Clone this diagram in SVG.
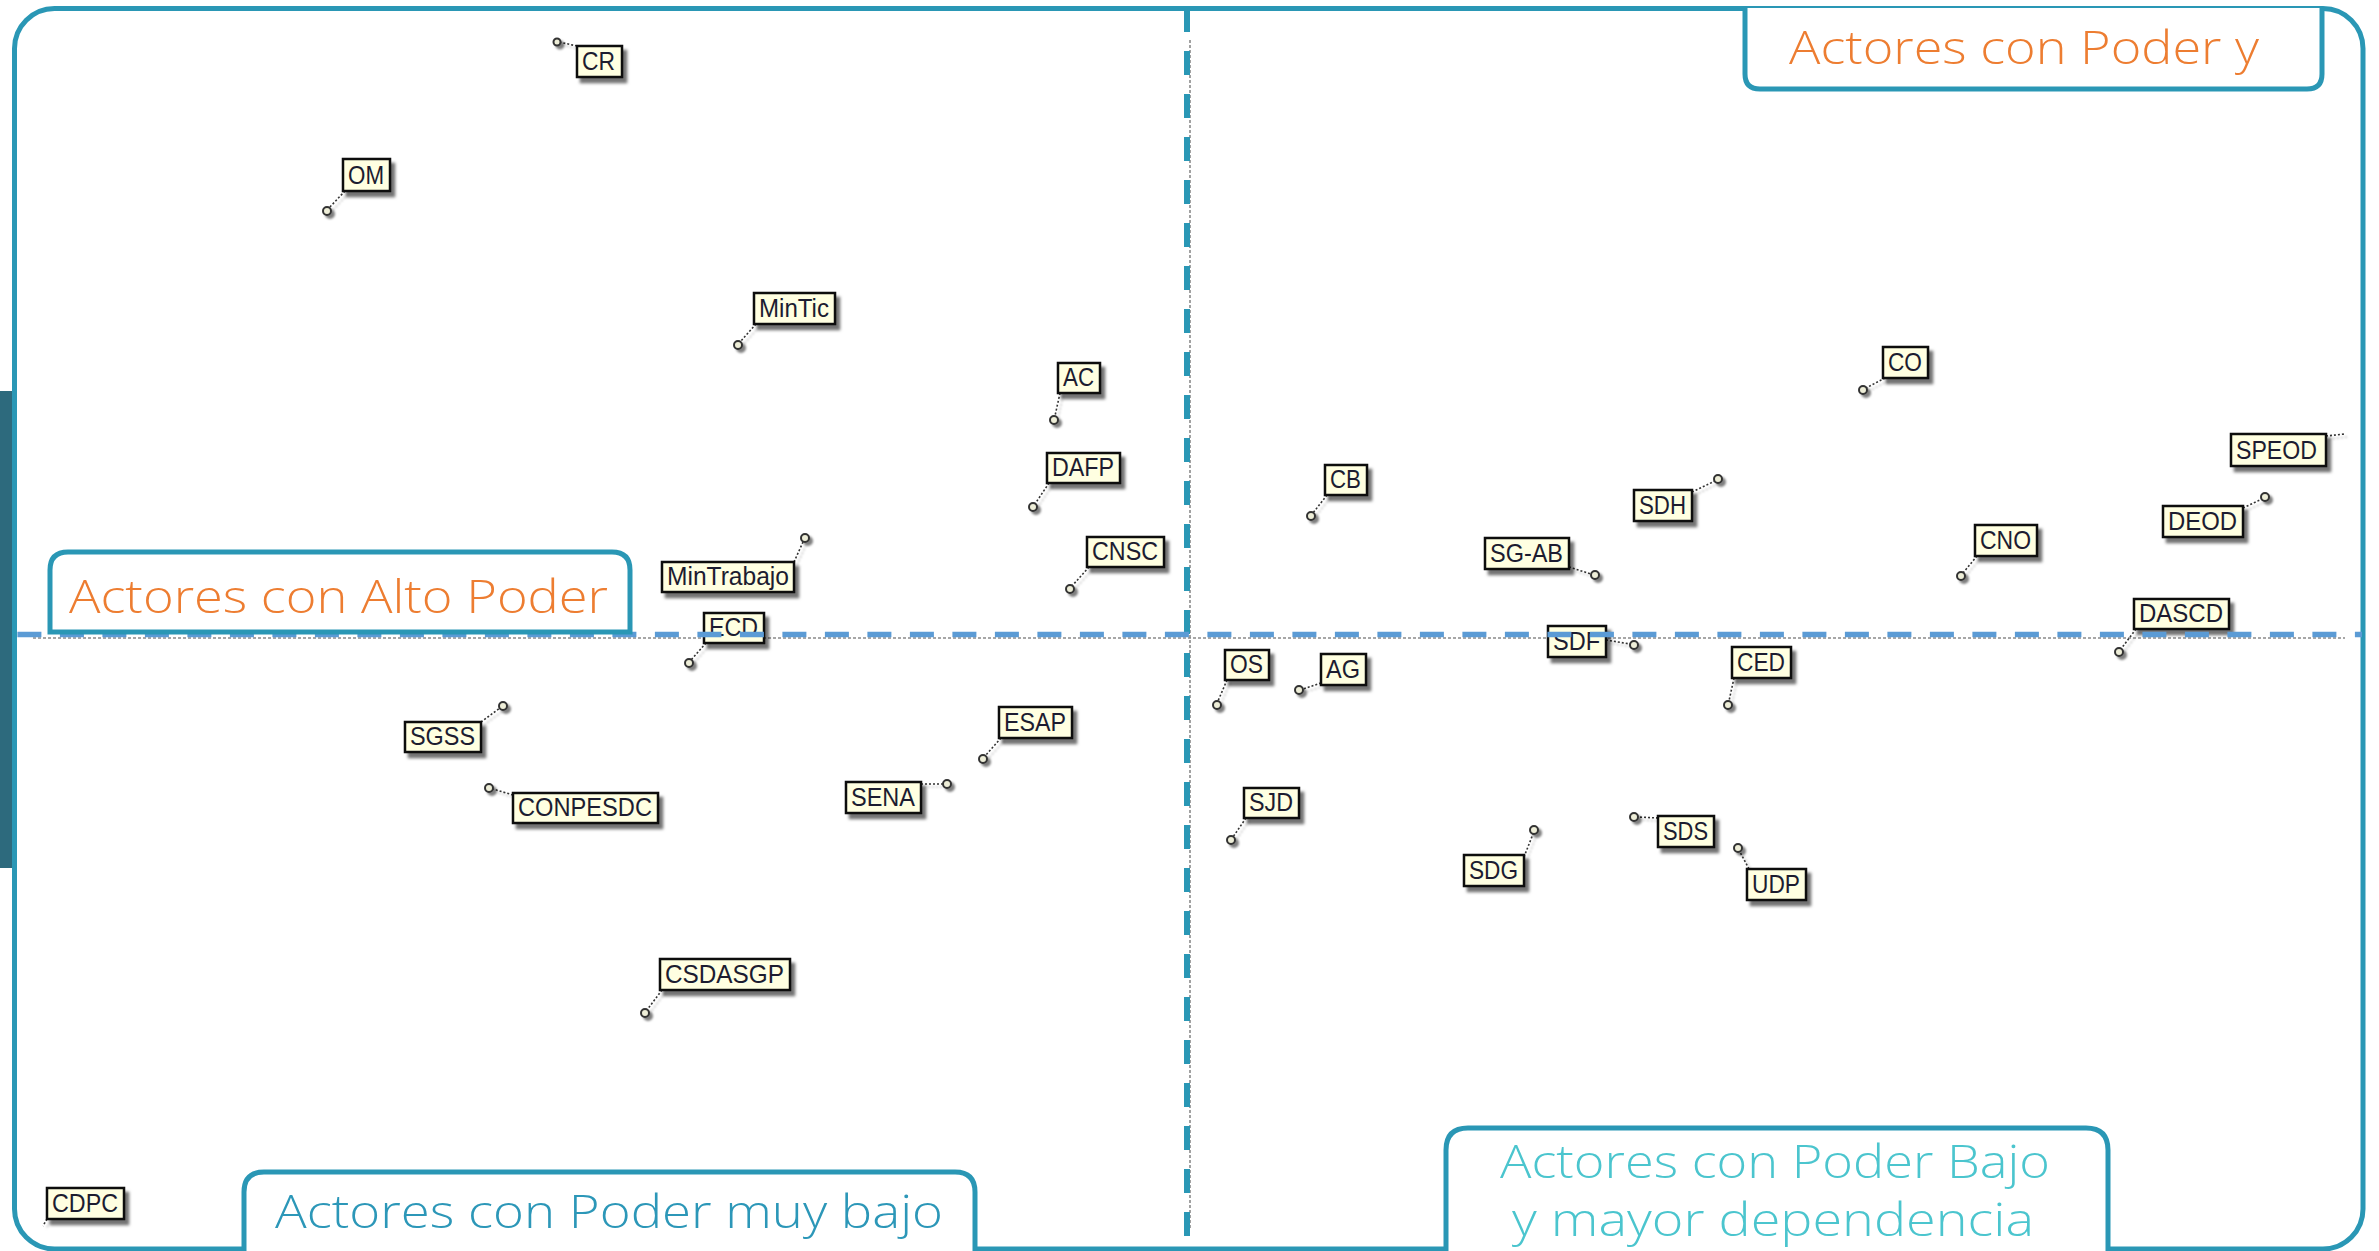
<svg xmlns="http://www.w3.org/2000/svg" width="2379" height="1251" viewBox="0 0 2379 1251">
<style>
.frame{fill:none;stroke:#2A97B5;stroke-width:5}
.qbox{fill:#fff;stroke:#2A97B5;stroke-width:5}
.qt{font-family:"Open Sans","Liberation Sans",sans-serif;font-weight:300;font-size:46px}
.or{fill:#ED7D31}
.tl{fill:#2C97B8}
.cy{fill:#4BC5CE}
.axg{stroke:#8a8a8a;stroke-width:1.6;stroke-dasharray:3 2;fill:none}
.node rect{fill:#FFFFE1;stroke:#111;stroke-width:2.5;filter:url(#sh)}
.node text{font-family:"Liberation Sans",Arial,sans-serif;font-size:26px;fill:#1c1c30}
.node circle{fill:#EEEED8;stroke:#333;stroke-width:2;filter:url(#sh2)}
.lead{stroke:#333;stroke-width:1.6;stroke-dasharray:2 2;fill:none}
</style>
<defs>
<filter id="sh" x="-20%" y="-30%" width="150%" height="170%"><feDropShadow dx="4" dy="5" stdDeviation="1.5" flood-color="#000" flood-opacity="0.55"/></filter>
<filter id="sh2" x="-100%" y="-100%" width="300%" height="300%"><feDropShadow dx="3" dy="3" stdDeviation="1" flood-color="#000" flood-opacity="0.5"/></filter>
<filter id="sh3" x="-10%" y="-10%" width="130%" height="130%"><feDropShadow dx="3" dy="3" stdDeviation="0.8" flood-color="#000" flood-opacity="0.25"/></filter>
</defs>

<rect x="0" y="391" width="12" height="477" fill="#2D6A7D"/>
<rect class="frame" x="14.5" y="8.5" width="2348.5" height="1240.5" rx="40"/>

<g id="axes-gray">
<line class="axg" x1="33" y1="638" x2="2345" y2="638"/>
<line class="axg" x1="1190" y1="40" x2="1190" y2="1230"/>
</g>

<g id="connectors" filter="url(#sh3)">
<line class="lead" x1="577" y1="46" x2="559" y2="42"/>
<line class="lead" x1="345" y1="191" x2="329" y2="208"/>
<line class="lead" x1="756" y1="324" x2="740" y2="342"/>
<line class="lead" x1="1060" y1="393" x2="1055" y2="416"/>
<line class="lead" x1="1049" y1="483" x2="1035" y2="504"/>
<line class="lead" x1="1089" y1="567" x2="1072" y2="586"/>
<line class="lead" x1="794" y1="562" x2="803" y2="542"/>
<line class="lead" x1="706" y1="643" x2="691" y2="660"/>
<line class="lead" x1="481" y1="722" x2="500" y2="708"/>
<line class="lead" x1="513" y1="795" x2="493" y2="789"/>
<line class="lead" x1="1001" y1="738" x2="985" y2="756"/>
<line class="lead" x1="921" y1="784" x2="943" y2="784"/>
<line class="lead" x1="662" y1="990" x2="647" y2="1010"/>
<line class="lead" x1="47" y1="1219" x2="43" y2="1226"/>
<line class="lead" x1="1885" y1="378" x2="1866" y2="388"/>
<line class="lead" x1="2326" y1="436" x2="2345" y2="434"/>
<line class="lead" x1="2243" y1="508" x2="2262" y2="499"/>
<line class="lead" x1="2136" y1="629" x2="2121" y2="649"/>
<line class="lead" x1="1327" y1="495" x2="1313" y2="513"/>
<line class="lead" x1="1692" y1="492" x2="1715" y2="481"/>
<line class="lead" x1="1569" y1="567" x2="1591" y2="574"/>
<line class="lead" x1="1977" y1="556" x2="1963" y2="573"/>
<line class="lead" x1="1606" y1="640" x2="1630" y2="644"/>
<line class="lead" x1="1227" y1="680" x2="1218" y2="701"/>
<line class="lead" x1="1321" y1="683" x2="1303" y2="689"/>
<line class="lead" x1="1734" y1="678" x2="1729" y2="701"/>
<line class="lead" x1="1246" y1="818" x2="1233" y2="837"/>
<line class="lead" x1="1524" y1="857" x2="1533" y2="834"/>
<line class="lead" x1="1658" y1="818" x2="1638" y2="817"/>
<line class="lead" x1="1749" y1="869" x2="1740" y2="852"/>
</g>

<g id="n-CR" class="node"><circle cx="557" cy="42" r="3.5"/><rect x="577" y="46" width="45" height="31"/><text x="582" y="70" textLength="33" lengthAdjust="spacingAndGlyphs">CR</text></g>
<g id="n-OM" class="node"><circle cx="327" cy="211" r="4"/><rect x="343" y="159" width="47" height="32"/><text x="348" y="184" textLength="36" lengthAdjust="spacingAndGlyphs">OM</text></g>
<g id="n-MinTic" class="node"><circle cx="738" cy="345" r="4"/><rect x="754" y="293" width="81" height="31"/><text x="759" y="317" textLength="70" lengthAdjust="spacingAndGlyphs">MinTic</text></g>
<g id="n-AC" class="node"><circle cx="1054" cy="420" r="4"/><rect x="1058" y="363" width="42" height="30"/><text x="1063" y="386" textLength="31" lengthAdjust="spacingAndGlyphs">AC</text></g>
<g id="n-DAFP" class="node"><circle cx="1033" cy="507" r="4"/><rect x="1047" y="453" width="73" height="30"/><text x="1052" y="476" textLength="62" lengthAdjust="spacingAndGlyphs">DAFP</text></g>
<g id="n-CNSC" class="node"><circle cx="1070" cy="589" r="4"/><rect x="1087" y="537" width="77" height="30"/><text x="1092" y="560" textLength="66" lengthAdjust="spacingAndGlyphs">CNSC</text></g>
<g id="n-MinTrabajo" class="node"><circle cx="805" cy="538" r="4"/><rect x="662" y="562" width="132" height="30"/><text x="667" y="585" textLength="122" lengthAdjust="spacingAndGlyphs">MinTrabajo</text></g>
<g id="n-ECD" class="node"><circle cx="689" cy="663" r="4"/><rect x="704" y="613" width="60" height="30"/><text x="709" y="636" textLength="49" lengthAdjust="spacingAndGlyphs">ECD</text></g>
<g id="n-SGSS" class="node"><circle cx="503" cy="706" r="4"/><rect x="405" y="722" width="76" height="30"/><text x="410" y="745" textLength="65" lengthAdjust="spacingAndGlyphs">SGSS</text></g>
<g id="n-CONPESDC" class="node"><circle cx="489" cy="788" r="4"/><rect x="513" y="793" width="145" height="30"/><text x="518" y="816" textLength="134" lengthAdjust="spacingAndGlyphs">CONPESDC</text></g>
<g id="n-ESAP" class="node"><circle cx="983" cy="759" r="4"/><rect x="999" y="707" width="73" height="31"/><text x="1004" y="731" textLength="62" lengthAdjust="spacingAndGlyphs">ESAP</text></g>
<g id="n-SENA" class="node"><circle cx="947" cy="784" r="4"/><rect x="846" y="782" width="75" height="31"/><text x="851" y="806" textLength="64" lengthAdjust="spacingAndGlyphs">SENA</text></g>
<g id="n-CSDASGP" class="node"><circle cx="645" cy="1013" r="4"/><rect x="660" y="959" width="130" height="31"/><text x="665" y="983" textLength="119" lengthAdjust="spacingAndGlyphs">CSDASGP</text></g>
<g id="n-CDPC" class="node"><rect x="47" y="1188" width="77" height="31"/><text x="52" y="1212" textLength="66" lengthAdjust="spacingAndGlyphs">CDPC</text></g>
<g id="n-CO" class="node"><circle cx="1863" cy="390" r="4"/><rect x="1883" y="347" width="45" height="31"/><text x="1888" y="371" textLength="34" lengthAdjust="spacingAndGlyphs">CO</text></g>
<g id="n-SPEOD" class="node"><rect x="2231" y="434" width="95" height="32"/><text x="2236" y="459" textLength="81" lengthAdjust="spacingAndGlyphs">SPEOD</text></g>
<g id="n-DEOD" class="node"><circle cx="2265" cy="497" r="4"/><rect x="2163" y="506" width="80" height="31"/><text x="2168" y="530" textLength="69" lengthAdjust="spacingAndGlyphs">DEOD</text></g>
<g id="n-DASCD" class="node"><circle cx="2119" cy="652" r="4"/><rect x="2134" y="599" width="95" height="30"/><text x="2139" y="622" textLength="84" lengthAdjust="spacingAndGlyphs">DASCD</text></g>
<g id="n-CB" class="node"><circle cx="1311" cy="516" r="4"/><rect x="1325" y="465" width="42" height="30"/><text x="1330" y="488" textLength="31" lengthAdjust="spacingAndGlyphs">CB</text></g>
<g id="n-SDH" class="node"><circle cx="1718" cy="479" r="4"/><rect x="1634" y="490" width="58" height="31"/><text x="1639" y="514" textLength="47" lengthAdjust="spacingAndGlyphs">SDH</text></g>
<g id="n-SG-AB" class="node"><circle cx="1595" cy="575" r="4"/><rect x="1485" y="538" width="84" height="31"/><text x="1490" y="562" textLength="73" lengthAdjust="spacingAndGlyphs">SG-AB</text></g>
<g id="n-CNO" class="node"><circle cx="1961" cy="576" r="4"/><rect x="1975" y="525" width="62" height="31"/><text x="1980" y="549" textLength="51" lengthAdjust="spacingAndGlyphs">CNO</text></g>
<g id="n-SDF" class="node"><circle cx="1634" cy="645" r="4"/><rect x="1548" y="626" width="58" height="31"/><text x="1553" y="650" textLength="47" lengthAdjust="spacingAndGlyphs">SDF</text></g>
<g id="n-OS" class="node"><circle cx="1217" cy="705" r="4"/><rect x="1225" y="650" width="44" height="30"/><text x="1230" y="673" textLength="33" lengthAdjust="spacingAndGlyphs">OS</text></g>
<g id="n-AG" class="node"><circle cx="1299" cy="690" r="4"/><rect x="1321" y="654" width="45" height="31"/><text x="1326" y="678" textLength="34" lengthAdjust="spacingAndGlyphs">AG</text></g>
<g id="n-CED" class="node"><circle cx="1728" cy="705" r="4"/><rect x="1732" y="647" width="59" height="31"/><text x="1737" y="671" textLength="48" lengthAdjust="spacingAndGlyphs">CED</text></g>
<g id="n-SJD" class="node"><circle cx="1231" cy="840" r="4"/><rect x="1244" y="788" width="55" height="30"/><text x="1249" y="811" textLength="44" lengthAdjust="spacingAndGlyphs">SJD</text></g>
<g id="n-SDG" class="node"><circle cx="1534" cy="830" r="4"/><rect x="1464" y="855" width="60" height="31"/><text x="1469" y="879" textLength="49" lengthAdjust="spacingAndGlyphs">SDG</text></g>
<g id="n-SDS" class="node"><circle cx="1634" cy="817" r="4"/><rect x="1658" y="816" width="56" height="31"/><text x="1663" y="840" textLength="45" lengthAdjust="spacingAndGlyphs">SDS</text></g>
<g id="n-UDP" class="node"><circle cx="1738" cy="848" r="4"/><rect x="1747" y="869" width="59" height="31"/><text x="1752" y="893" textLength="48" lengthAdjust="spacingAndGlyphs">UDP</text></g>

<g id="axes-blue">
<line x1="1187" y1="8" x2="1187" y2="1251" stroke="#2A97B5" stroke-width="6" stroke-dasharray="24 19"/>
<line x1="17.4" y1="634.5" x2="2362" y2="634.5" stroke="#5B9BD5" stroke-width="5.5" stroke-dasharray="24 18.5"/>
</g>

<g id="q-top-right">
<path class="qbox" d="M1745,8 V74 Q1745,89 1760,89 H2307 Q2322,89 2322,74 V8"/>
<text class="qt or" x="1789" y="64" textLength="470" lengthAdjust="spacingAndGlyphs">Actores con Poder y</text>
</g>
<g id="q-top-left">
<path class="qbox" d="M50,632 V570 Q50,552 68,552 H612 Q630,552 630,570 V632 Z"/>
<text class="qt or" x="69" y="613" textLength="539" lengthAdjust="spacingAndGlyphs">Actores con Alto Poder</text>
</g>
<g id="q-bottom-left">
<path class="qbox" d="M244,1253 V1192 Q244,1172 264,1172 H955 Q975,1172 975,1192 V1253"/>
<text class="qt tl" x="275" y="1228" font-size="48" textLength="668" lengthAdjust="spacingAndGlyphs">Actores con Poder muy bajo</text>
</g>
<g id="q-bottom-right">
<path class="qbox" d="M1446,1253 V1150 Q1446,1128 1468,1128 H2086 Q2108,1128 2108,1150 V1253"/>
<text class="qt cy" x="1500" y="1178" textLength="550" lengthAdjust="spacingAndGlyphs">Actores con Poder Bajo</text>
<text class="qt cy" x="1512" y="1236" textLength="522" lengthAdjust="spacingAndGlyphs">y mayor dependencia</text>
</g>
</svg>
